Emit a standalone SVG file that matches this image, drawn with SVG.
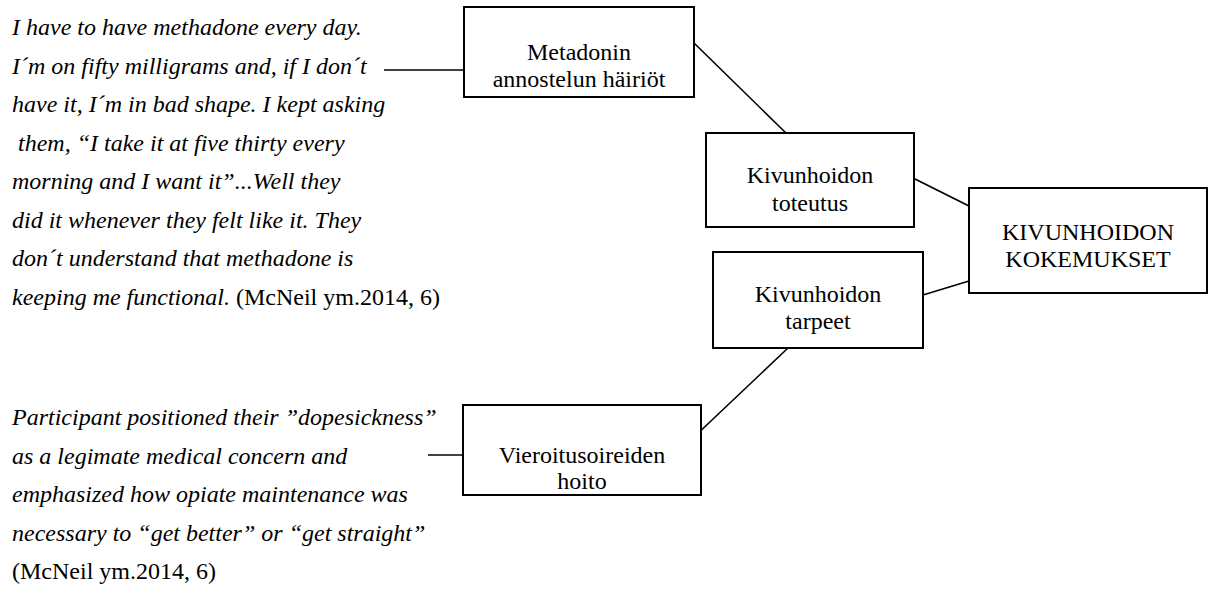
<svg xmlns="http://www.w3.org/2000/svg" width="1213" height="599" viewBox="0 0 1213 599" font-family="Liberation Serif, Times New Roman, serif" font-size="24">
<style>
.box{fill:#fff;stroke:#000;stroke-width:2}
.conn{stroke:#000;stroke-width:1.6;fill:none}
</style>
<rect width="1213" height="599" fill="#fff"/>
<g id="quote1">
<text x="12" y="35" font-family="Liberation Serif, Times New Roman, serif" font-size="24" font-style="italic">I have to have methadone every day.</text>
<text x="12" y="73.5" font-family="Liberation Serif, Times New Roman, serif" font-size="24" font-style="italic">I&#180;m on fifty milligrams and, if I don&#180;t</text>
<text x="12" y="112" font-family="Liberation Serif, Times New Roman, serif" font-size="24" font-style="italic">have it, I&#180;m in bad shape. I kept asking</text>
<text x="18" y="150.5" font-family="Liberation Serif, Times New Roman, serif" font-size="24" font-style="italic">them, &#8220;I take it at five thirty every</text>
<text x="12" y="189" font-family="Liberation Serif, Times New Roman, serif" font-size="24" font-style="italic">morning and I want it&#8221;...Well they</text>
<text x="12" y="227.5" font-family="Liberation Serif, Times New Roman, serif" font-size="24" font-style="italic">did it whenever they felt like it. They</text>
<text x="12" y="266" font-family="Liberation Serif, Times New Roman, serif" font-size="24" font-style="italic">don&#180;t understand that methadone is</text>
<text x="12" y="304.5" font-family="Liberation Serif, Times New Roman, serif" font-size="24" font-style="italic">keeping me functional.<tspan font-style="normal"> (McNeil ym.2014, 6)</tspan></text>
</g>
<g id="quote2">
<text x="12" y="425" font-family="Liberation Serif, Times New Roman, serif" font-size="24" font-style="italic">Participant positioned their &#8221;dopesickness&#8221;</text>
<text x="12" y="463.5" font-family="Liberation Serif, Times New Roman, serif" font-size="24" font-style="italic">as a legimate medical concern and</text>
<text x="12" y="502" font-family="Liberation Serif, Times New Roman, serif" font-size="24" font-style="italic">emphasized how opiate maintenance was</text>
<text x="12" y="540.5" font-family="Liberation Serif, Times New Roman, serif" font-size="24" font-style="italic">necessary to &#8220;get better&#8221; or &#8220;get straight&#8221;</text>
<text x="12" y="579" font-family="Liberation Serif, Times New Roman, serif" font-size="24">(McNeil ym.2014, 6)</text>
</g>
<g id="connectors">
<line class="conn" x1="384" y1="70" x2="464" y2="70"/>
<line class="conn" x1="694" y1="43" x2="787" y2="134"/>
<line class="conn" x1="913" y1="178" x2="969" y2="206"/>
<line class="conn" x1="923" y1="295" x2="969" y2="281"/>
<line class="conn" x1="788" y1="348" x2="693" y2="438"/>
<line class="conn" x1="428" y1="455" x2="463" y2="455"/>
</g>
<g id="metadonin">
<rect class="box" x="464" y="7" width="230" height="90"/>
<text x="579" y="60" text-anchor="middle" font-family="Liberation Serif, Times New Roman, serif" font-size="24">Metadonin</text>
<text x="579" y="87" text-anchor="middle" font-family="Liberation Serif, Times New Roman, serif" font-size="24">annostelun h&#228;iri&#246;t</text>
</g>
<g id="toteutus">
<rect class="box" x="706" y="133" width="208" height="94"/>
<text x="810" y="183" text-anchor="middle" font-family="Liberation Serif, Times New Roman, serif" font-size="24">Kivunhoidon</text>
<text x="810" y="211" text-anchor="middle" font-family="Liberation Serif, Times New Roman, serif" font-size="24">toteutus</text>
</g>
<g id="tarpeet">
<rect class="box" x="713" y="252" width="210" height="96"/>
<text x="818" y="302" text-anchor="middle" font-family="Liberation Serif, Times New Roman, serif" font-size="24">Kivunhoidon</text>
<text x="818" y="329" text-anchor="middle" font-family="Liberation Serif, Times New Roman, serif" font-size="24">tarpeet</text>
</g>
<g id="kokemukset">
<rect class="box" x="969" y="188" width="238" height="105"/>
<text x="1088" y="240" text-anchor="middle" font-family="Liberation Serif, Times New Roman, serif" font-size="24">KIVUNHOIDON</text>
<text x="1088" y="267" text-anchor="middle" font-family="Liberation Serif, Times New Roman, serif" font-size="24">KOKEMUKSET</text>
</g>
<g id="vieroitus">
<rect class="box" x="463" y="405" width="238" height="90"/>
<text x="582" y="463" text-anchor="middle" font-family="Liberation Serif, Times New Roman, serif" font-size="24">Vieroitusoireiden</text>
<text x="582" y="489" text-anchor="middle" font-family="Liberation Serif, Times New Roman, serif" font-size="24">hoito</text>
</g>
</svg>
